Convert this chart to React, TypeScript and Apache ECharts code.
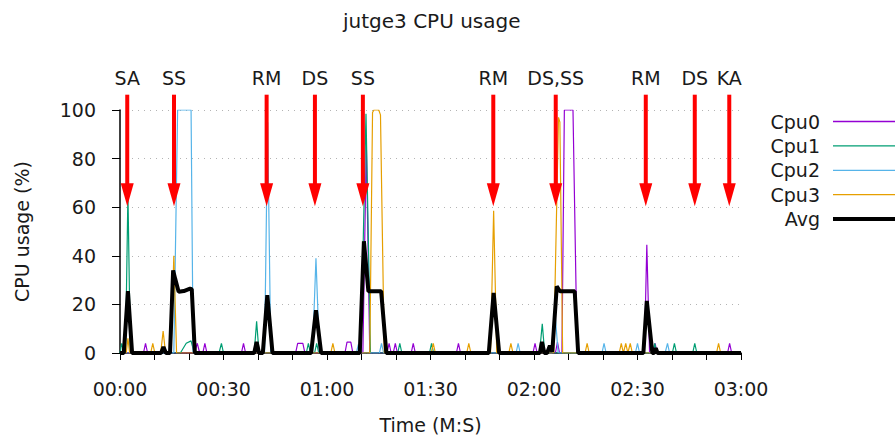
import React, { useEffect, useRef } from "react";
import * as echarts from "echarts";

const chartTitle = "jutge3 CPU usage";
const xAxisName = "Time (M:S)";
const yAxisName = "CPU usage (%)";
const xTickLabels = ["00:00", "00:30", "01:00", "01:30", "02:00", "02:30", "03:00"];
const yTickValues = [0, 20, 40, 60, 80, 100];
const seriesNames = ["Cpu0", "Cpu1", "Cpu2", "Cpu3", "Avg"];
const seriesColors = ["#9400d3", "#009e73", "#56b4e9", "#e69f00", "#000000"];

// [seconds, percent]
const cpu0: number[][] = [
  [0, 0], [6.8, 0], [7.4, 4], [8, 0], [21.6, 0], [22.4, 4], [23.1, 0], [24, 0], [24.6, 4], [25.2, 0],
  [35.2, 0], [35.8, 4], [36.4, 0], [50.9, 0], [51.5, 4], [53, 4], [53.6, 0], [65.2, 0], [65.8, 4.5],
  [66.9, 4.5], [67.5, 0], [70.4, 0], [71.4, 86], [72.4, 0], [77.4, 0], [78, 4], [78.6, 0], [79.2, 0],
  [79.8, 4], [80.4, 0], [84.4, 0], [85, 4], [85.6, 0], [97.5, 0], [98.1, 4], [98.7, 0], [119.7, 0],
  [120.3, 4], [120.9, 0], [126.2, 0], [126.8, 4.5], [127.4, 0], [128.1, 0], [128.8, 100], [131.3, 100],
  [132.5, 0], [152, 0], [152.7, 44.5], [153.5, 0], [154.5, 0], [155.1, 4], [155.7, 0], [176.1, 0],
  [176.7, 4], [177.3, 0], [180, 0],
];
const cpu1: number[][] = [
  [0, 0], [0.5, 4], [1.1, 0], [1.6, 0], [2.3, 66], [3, 0], [17.5, 0], [19.2, 4], [20.6, 5], [21.5, 0],
  [28.7, 0], [29.4, 4], [30, 0], [38.9, 0], [39.6, 13], [40.3, 0], [54, 0], [54.6, 4], [55.2, 0],
  [56.4, 0], [57, 4], [57.6, 0], [69.8, 0], [71.3, 98.5], [72.6, 0], [80.5, 0], [81.1, 4], [81.7, 0],
  [89.7, 0], [90.3, 4], [90.9, 0], [121.6, 0], [122.4, 12], [123.1, 0], [154.4, 0], [155, 4], [155.6, 0],
  [160.1, 0], [160.7, 4], [161.3, 0], [166, 0], [166.6, 4], [167.2, 0], [180, 0],
];
const cpu2: number[][] = [
  [0, 0], [15.6, 0], [16.7, 100], [20.6, 100], [21.2, 0], [41.9, 0], [42.8, 95], [43.7, 0], [55.8, 0],
  [56.8, 39], [57.8, 0], [68.5, 0], [69.1, 3.5], [69.7, 0], [75.2, 0], [75.8, 4], [76.4, 0], [114.8, 0],
  [115.4, 4], [116, 0], [125.3, 0], [126.2, 14.5], [127, 0], [139.7, 0], [140.3, 4], [140.9, 0],
  [149.4, 0], [150, 4], [150.6, 0], [158, 0], [158.7, 4], [159.3, 0], [180, 0],
];
const cpu3: number[][] = [
  [0, 0], [1.8, 0], [2.3, 6], [2.8, 0], [8.9, 0], [9.5, 4], [10.1, 0], [11.8, 0], [12.5, 9], [13.2, 0],
  [14.8, 0], [15.6, 40], [16.4, 0], [61.1, 0], [61.7, 4], [62.3, 0], [72.4, 0], [73.2, 99], [73.6, 100],
  [75, 100], [75.5, 98], [76.6, 0], [90.2, 0], [90.8, 4], [91.4, 0], [100.5, 0], [101.1, 4], [101.7, 0],
  [107.4, 0], [108.3, 58.5], [109.2, 0], [112.7, 0], [113.3, 4], [113.9, 0], [125.7, 0], [127.1, 97],
  [127.5, 95], [128.3, 0], [134.8, 0], [135.4, 4], [136, 0], [144.7, 0], [145.3, 4], [145.9, 0],
  [146, 0], [146.6, 4], [147.2, 0], [147.3, 0], [147.9, 4], [148.5, 0], [172.9, 0], [173.5, 4],
  [174.1, 0], [180, 0],
];
const avg: number[][] = [
  [0, 0], [1.1, 0], [2.3, 25.5], [3.5, 0], [11.9, 0], [12.6, 2.5], [13.3, 0], [14.5, 0], [15.4, 34],
  [16, 30.5], [17, 25.2], [18.5, 25.5], [20.3, 26.5], [20.8, 26.3], [21.7, 0], [38.9, 0], [39.6, 4.6],
  [40.3, 0], [41.4, 0], [42.7, 23.8], [44.2, 0], [55.4, 0], [56.8, 17.6], [58.3, 0], [69.5, 0],
  [70.7, 46], [72, 25.4], [75.7, 25.4], [77.2, 0], [106.9, 0], [108.3, 24.7], [109.9, 0], [121.7, 0],
  [122.3, 4.6], [123, 0], [123.8, 0], [124.6, 3], [125.3, 0.5], [126.6, 27.4], [127.5, 25.4],
  [131.8, 25.4], [132.8, 0], [151.7, 0], [152.7, 21.4], [154.3, 0], [154.8, 0], [155.3, 2], [155.8, 0],
  [180, 0],
];
const seriesData = [cpu0, cpu1, cpu2, cpu3, avg];

// event annotations: time (s) and label
const eventTimes = [2.1, 15.65, 42.5, 56.5, 70.4, 108.2, 126.3, 152.4, 166.6, 176.6];
const eventLabels = ["SA", "SS", "RM", "DS", "SS", "RM", "DS,SS", "RM", "DS", "KA"];
const arrowTop = 106.3;
const arrowTip = 60.4;

const FONT = "'DejaVu Sans', sans-serif";
const TEXT = "#1a1a1a";

export default function App() {
  const ref = useRef<HTMLDivElement>(null);
  useEffect(() => {
    if (!ref.current) return;
    const chart = echarts.init(ref.current, undefined, { renderer: "svg" });
    const lineSeries = seriesNames.map((name, i) => ({
      name,
      type: "line",
      data: seriesData[i],
      showSymbol: false,
      symbol: "none",
      z: i === 4 ? 4 : 3,
      color: seriesColors[i],
      lineStyle: { color: seriesColors[i], width: i === 4 ? 4 : 1.2 },
    }));
    const arrowSeries = {
      type: "custom",
      name: "events",
      silent: true,
      clip: false,
      z: 10,
      data: eventTimes.map((t) => [t, arrowTop, arrowTip]),
      renderItem: (params: any, api: any) => {
        const t = api.value(0);
        const top = api.coord([t, api.value(1)]);
        const tip = api.coord([t, api.value(2)]);
        const headLen = 23;
        const headHalf = 6.5;
        return {
          type: "group",
          children: [
            {
              type: "line",
              shape: { x1: top[0], y1: top[1], x2: tip[0], y2: tip[1] - headLen + 2 },
              style: { stroke: "#ff0000", lineWidth: 4 },
            },
            {
              type: "polygon",
              shape: {
                points: [
                  [tip[0] - headHalf, tip[1] - headLen],
                  [tip[0] + headHalf, tip[1] - headLen],
                  [tip[0], tip[1]],
                ],
              },
              style: { fill: "#ff0000" },
            },
            {
              type: "text",
              x: top[0],
              y: top[1] - 17,
              style: {
                text: eventLabels[params.dataIndex],
                fontSize: 19,
                fontFamily: FONT,
                fill: TEXT,
                align: "center",
                verticalAlign: "middle",
              },
            },
          ],
        };
      },
    };
    chart.setOption({
      animation: false,
      textStyle: { fontFamily: FONT },
      title: {
        text: chartTitle,
        left: 343,
        top: 11,
        padding: 0,
        textStyle: { fontSize: 20, fontWeight: "normal", color: TEXT, fontFamily: FONT },
      },
      grid: { left: 120, right: 154, top: 110, bottom: 81 },
      legend: {
        orient: "vertical",
        right: 0,
        top: 112,
        padding: 0,
        align: "right",
        itemWidth: 62,
        itemHeight: 4,
        itemGap: 5.4,
        textStyle: { fontSize: 19, color: TEXT, fontFamily: FONT, padding: [0, 8, 0, 0] },
        data: seriesNames.map((n, i) => ({
          name: n,
          icon: i === 4 ? "path://M0 0H62V4H0Z" : "path://M0 0H62V1.3H0Z",
          itemStyle: { color: seriesColors[i] },
        })),
      },
      xAxis: {
        type: "value",
        min: 0,
        max: 180,
        interval: 30,
        name: xAxisName,
        nameLocation: "middle",
        nameGap: 62,
        nameTextStyle: { fontSize: 19, color: TEXT, fontFamily: FONT },
        axisLine: { show: true, lineStyle: { color: "#000", width: 1.5 } },
        axisTick: { show: true, length: 7, lineStyle: { color: "#000", width: 1 } },
        minorTick: { show: true, splitNumber: 3, length: 7, lineStyle: { color: "#000", width: 1 } },
        splitLine: { show: false },
        axisLabel: {
          fontSize: 19,
          color: TEXT,
          fontFamily: FONT,
          margin: 26,
          showMinLabel: true,
          showMaxLabel: true,
          formatter: (v: number) => xTickLabels[Math.round(v / 30)] ?? "",
        },
      },
      yAxis: {
        type: "value",
        min: yTickValues[0],
        max: yTickValues[yTickValues.length - 1],
        interval: 20,
        name: yAxisName,
        nameLocation: "middle",
        nameGap: 89,
        nameTextStyle: { fontSize: 19, color: TEXT, fontFamily: FONT },
        axisLine: { show: true, lineStyle: { color: "#000", width: 1.5 } },
        axisTick: { show: true, length: 8, lineStyle: { color: "#000", width: 1 } },
        splitLine: { show: true, lineStyle: { color: "#b4b4b4", width: 1, type: [1, 5] } },
        axisLabel: { fontSize: 19, color: TEXT, fontFamily: FONT, margin: 24 },
      },
      series: [...lineSeries, arrowSeries],
    });
    return () => chart.dispose();
  }, []);
  return (
    <div
      ref={ref}
      style={{ position: "fixed", left: 0, top: 0, width: 895, height: 439, background: "#fff" }}
    />
  );
}
